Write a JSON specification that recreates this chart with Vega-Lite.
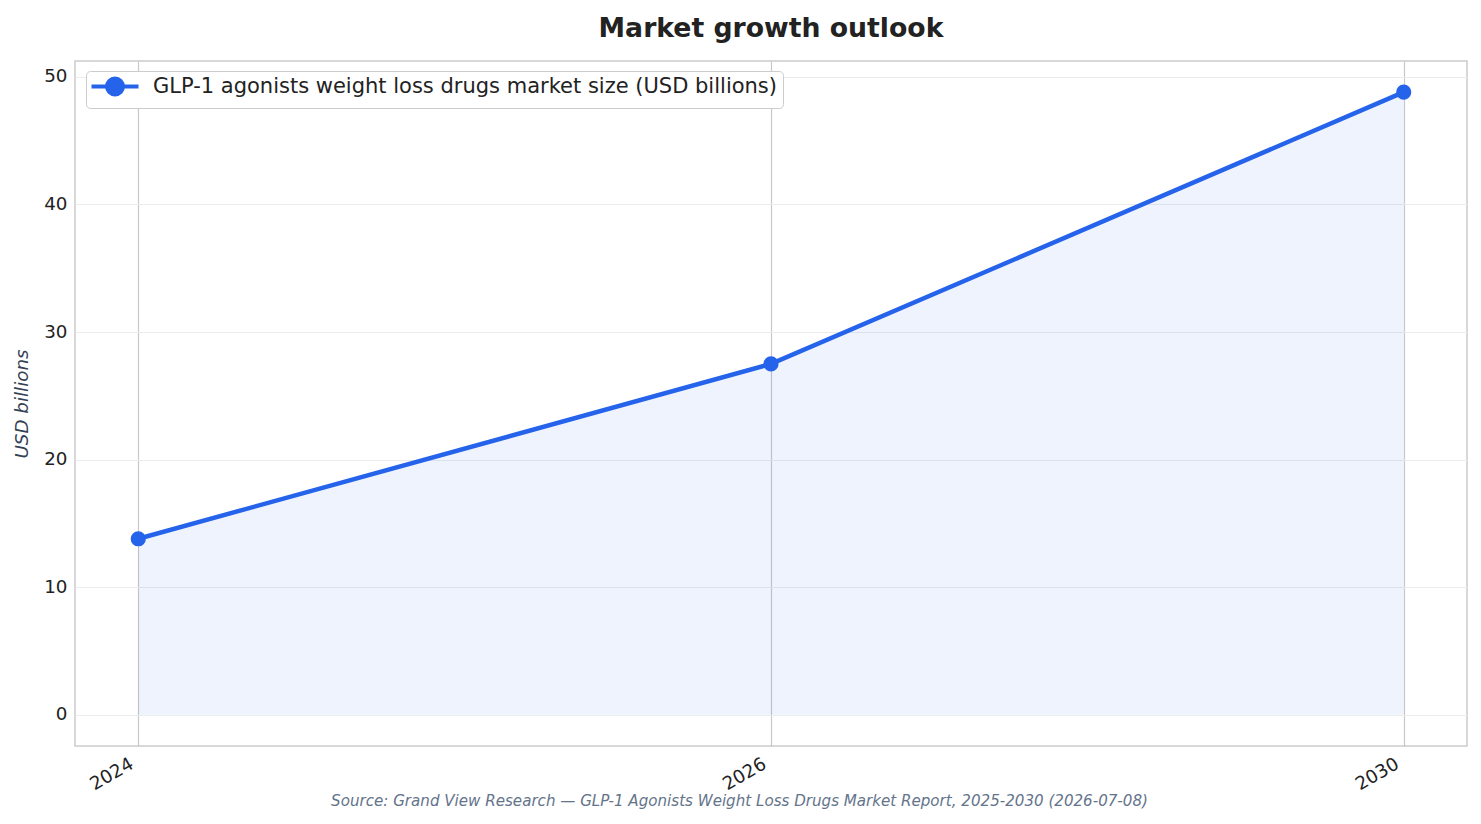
{
  "$schema": "https://vega.github.io/schema/vega-lite/v6.json",
  "width": 1392,
  "height": 685,
  "autosize": {"type": "none"},
  "padding": {"left": 75, "top": 61, "right": 14, "bottom": 78},
  "background": "white",
  "config": {
    "font": "DejaVu Sans",
    "view": {"stroke": "#cccccc", "strokeWidth": 1.5},
    "axis": {"labelFont": "DejaVu Sans", "titleFont": "DejaVu Sans"},
    "legend": {"labelFont": "DejaVu Sans"}
  },
  "title": {
    "text": "Market growth outlook",
    "fontSize": 26.7,
    "fontWeight": "bold",
    "color": "#222222",
    "anchor": "middle",
    "offset": 18
  },
  "data": {
    "values": [
      {"year": "2024", "value": 13.8, "series": "GLP-1 agonists weight loss drugs market size (USD billions)"},
      {"year": "2026", "value": 27.5, "series": "GLP-1 agonists weight loss drugs market size (USD billions)"},
      {"year": "2030", "value": 48.8, "series": "GLP-1 agonists weight loss drugs market size (USD billions)"}
    ]
  },
  "encoding": {
    "x": {
      "field": "year",
      "type": "ordinal",
      "scale": {"type": "point", "padding": 0.1},
      "axis": {
        "title": "Source: Grand View Research — GLP-1 Agonists Weight Loss Drugs Market Report, 2025-2030 (2026-07-08)",
        "titleFontSize": 15.1,
        "titleFontStyle": "italic",
        "titleFontWeight": "normal",
        "titleColor": "#64748b",
        "titleX": 664,
        "titleY": 54,
        "titleBaseline": "middle",
        "labelAngle": -30,
        "labelAlign": "right",
        "labelBaseline": "alphabetic",
        "labelFontSize": 18.3,
        "labelColor": "#222222",
        "labelPadding": 21,
        "labelOffset": -4,
        "ticks": false,
        "domain": false,
        "grid": true,
        "gridColor": "#c8c8cc",
        "gridWidth": 1.2
      }
    },
    "y": {
      "field": "value",
      "type": "quantitative",
      "scale": {"domain": [-2.44, 51.24], "nice": false, "zero": false},
      "axis": {
        "title": "USD billions",
        "titleFontSize": 18.3,
        "titleFontStyle": "italic",
        "titleFontWeight": "normal",
        "titleColor": "#334155",
        "titlePadding": 12,
        "values": [0, 10, 20, 30, 40, 50],
        "labelFontSize": 18.3,
        "labelColor": "#222222",
        "labelPadding": 8,
        "ticks": false,
        "domain": false,
        "grid": true,
        "gridColor": "#ebebeb",
        "gridWidth": 1
      }
    }
  },
  "layer": [
    {
      "mark": {"type": "area", "color": "#2563eb", "opacity": 0.08},
      "encoding": {"y2": {"datum": 0}}
    },
    {
      "mark": {"type": "line", "strokeWidth": 4.5},
      "encoding": {
        "color": {
          "field": "series",
          "type": "nominal",
          "scale": {"range": ["#2563eb"]},
          "legend": {
            "title": null,
            "orient": "none",
            "legendX": 11,
            "legendY": 10,
            "symbolType": "M -1.667 0 L 6.167 0 M 0.917 0 A 1.333 1.333 0 1 0 3.583 0 A 1.333 1.333 0 1 0 0.917 0 Z",
            "symbolSize": 144,
            "symbolStrokeWidth": 4,
            "symbolFillColor": "#2563eb",
            "symbolStrokeColor": "#2563eb",
            "labelFontSize": 21,
            "labelColor": "#222222",
            "labelOffset": 41,
            "labelLimit": 1000,
            "fillColor": "white",
            "strokeColor": "#cccccc",
            "cornerRadius": 4,
            "padding": 5
          }
        }
      }
    },
    {
      "mark": {"type": "point", "filled": true, "size": 230, "opacity": 1, "color": "#2563eb"}
    }
  ]
}
